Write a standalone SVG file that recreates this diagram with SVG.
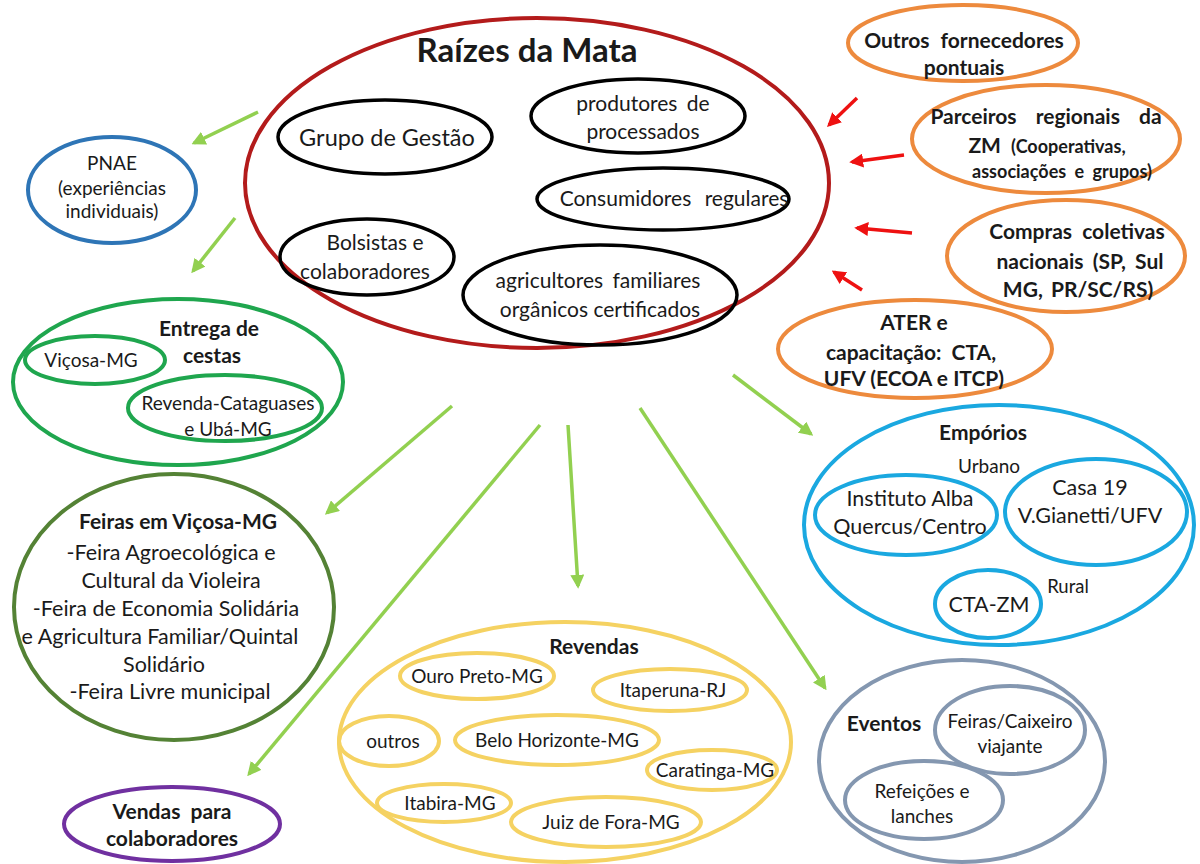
<svg xmlns="http://www.w3.org/2000/svg" width="1200" height="864" viewBox="0 0 1200 864">
<defs>
<marker id="ag" viewBox="0 0 10 10" refX="8" refY="5" markerWidth="4" markerHeight="4" orient="auto" markerUnits="strokeWidth"><path d="M0,0 L10,5 L0,10 z" fill="#92d050"/></marker>
<marker id="ar" viewBox="0 0 10 10" refX="8" refY="5" markerWidth="4" markerHeight="4" orient="auto" markerUnits="strokeWidth"><path d="M0,0 L10,5 L0,10 z" fill="#ee1111"/></marker>
</defs>
<style>
text{font-family:Lato,"Liberation Sans",sans-serif;fill:#1a1a1a;text-anchor:middle}
.t{font-size:21px}
.s{font-size:19px}
.b{font-weight:bold;font-size:21px}
ellipse{fill:none;stroke-width:4}
.red{stroke:#b31b1b}
.blk{stroke:#000;stroke-width:3.5}
.blu{stroke:#2e75b6}
.grn{stroke:#1fa64e}
.dgr{stroke:#548235}
.pur{stroke:#7030a0}
.yel{stroke:#f5d262}
.cya{stroke:#1aa8e0}
.gry{stroke:#8497b0}
.org{stroke:#ed8a3d}
.ga{stroke:#92d050;stroke-width:3.5;fill:none;marker-end:url(#ag)}
.ra{stroke:#ee1111;stroke-width:3.5;fill:none;marker-end:url(#ar)}
</style>

<g id="connectors">
<line class="ga" x1="258" y1="112" x2="194" y2="143"/>
<line class="ga" x1="235" y1="218" x2="193" y2="271"/>
<line class="ga" x1="452" y1="406" x2="327" y2="513"/>
<line class="ga" x1="540" y1="425" x2="249" y2="774"/>
<line class="ga" x1="568" y1="425" x2="578" y2="586"/>
<line class="ga" x1="640" y1="408" x2="825" y2="688"/>
<line class="ga" x1="733" y1="375" x2="811" y2="434"/>
<line class="ra" x1="857" y1="98" x2="829" y2="125"/>
<line class="ra" x1="904" y1="155" x2="852" y2="162"/>
<line class="ra" x1="912" y1="233" x2="857" y2="228"/>
<line class="ra" x1="862" y1="290" x2="834" y2="272"/>
</g>

<g id="raizes">
<ellipse class="red" cx="537" cy="183" rx="292" ry="165"/>
<text x="527" y="62" style="font-size:33px;font-weight:bold">Raízes da Mata</text>
</g>
<g id="grupo-gestao">
<ellipse class="blk" cx="385" cy="137" rx="107" ry="37"/>
<text x="387" y="146" style="font-size:23.5px">Grupo de Gestão</text>
</g>
<g id="produtores">
<ellipse class="blk" cx="638" cy="116" rx="107" ry="37"/>
<text class="t" x="643" y="111" style="word-spacing:4px">produtores de</text>
<text class="t" x="643" y="139">processados</text>
</g>
<g id="consumidores">
<ellipse class="blk" cx="663" cy="199" rx="126" ry="31"/>
<text class="t" x="674" y="206" style="word-spacing:8px">Consumidores regulares</text>
</g>
<g id="bolsistas">
<ellipse class="blk" cx="367" cy="257" rx="87" ry="38"/>
<text class="t" x="375" y="250">Bolsistas e</text>
<text class="t" x="365" y="279">colaboradores</text>
</g>
<g id="agricultores">
<ellipse class="blk" cx="600" cy="295" rx="137" ry="50"/>
<text class="t" x="598" y="288" style="word-spacing:4px">agricultores familiares</text>
<text class="t" x="600" y="317">orgânicos certificados</text>
</g>

<g id="pnae">
<ellipse class="blu" cx="112" cy="190" rx="84" ry="53"/>
<text class="s" x="112" y="170">PNAE</text>
<text class="s" x="112" y="195">(experiências</text>
<text class="s" x="112" y="218">individuais)</text>
</g>

<g id="entrega">
<ellipse class="grn" cx="178" cy="382" rx="165" ry="83"/>
<text class="b" x="209" y="336">Entrega de</text>
<text class="b" x="212" y="363">cestas</text>
</g>
<g id="vicosa">
<ellipse class="grn" cx="95" cy="360" rx="70" ry="24"/>
<text class="s" x="91" y="367">Viçosa-MG</text>
</g>
<g id="revenda-cataguases">
<ellipse class="grn" cx="225" cy="408" rx="97" ry="33"/>
<text class="s" x="228" y="410">Revenda-Cataguases</text>
<text class="s" x="228" y="436">e Ubá-MG</text>
</g>

<g id="feiras">
<ellipse class="dgr" cx="174" cy="607" rx="160" ry="133"/>
<text class="b" x="178" y="529">Feiras em Viçosa-MG</text>
<text x="171" y="560" style="font-size:21.5px">-Feira Agroecológica e</text>
<text x="171" y="588" style="font-size:21.5px">Cultural da Violeira</text>
<text x="166" y="616" style="font-size:21.5px">-Feira de Economia Solidária</text>
<text x="160" y="644" style="font-size:21.5px">e Agricultura Familiar/Quintal</text>
<text x="164" y="672" style="font-size:21.5px">Solidário</text>
<text x="170" y="699" style="font-size:21.5px">-Feira Livre municipal</text>
</g>

<g id="vendas">
<ellipse class="pur" cx="172" cy="824" rx="108" ry="37"/>
<text class="b" x="172" y="819" style="word-spacing:5px">Vendas para</text>
<text class="b" x="172" y="846">colaboradores</text>
</g>

<g id="revendas">
<ellipse class="yel" cx="565" cy="742" rx="226" ry="120"/>
<text class="b" x="594" y="654">Revendas</text>
</g>
<g id="ouro-preto"><ellipse class="yel" cx="477" cy="676" rx="77" ry="23"/><text class="s" x="477" y="683">Ouro Preto-MG</text></g>
<g id="itaperuna"><ellipse class="yel" cx="670" cy="690" rx="77" ry="21"/><text class="s" x="673" y="697">Itaperuna-RJ</text></g>
<g id="outros"><ellipse class="yel" cx="389" cy="741" rx="50" ry="25"/><text class="s" x="393" y="748">outros</text></g>
<g id="belo-horizonte"><ellipse class="yel" cx="557" cy="740" rx="102" ry="25"/><text class="s" x="557" y="747">Belo Horizonte-MG</text></g>
<g id="caratinga"><ellipse class="yel" cx="712" cy="770" rx="65" ry="20"/><text class="s" x="715" y="777">Caratinga-MG</text></g>
<g id="itabira"><ellipse class="yel" cx="444" cy="803" rx="67" ry="19"/><text class="s" x="450" y="810">Itabira-MG</text></g>
<g id="juiz-de-fora"><ellipse class="yel" cx="606" cy="822" rx="95" ry="25"/><text class="s" x="611" y="829">Juiz de Fora-MG</text></g>

<g id="emporios">
<ellipse class="cya" cx="999" cy="525" rx="195" ry="120"/>
<text class="b" x="983" y="440">Empórios</text>
<text class="s" x="989" y="473">Urbano</text>
<text x="1068" y="593" style="font-size:18.5px">Rural</text>
</g>
<g id="instituto-alba">
<ellipse class="cya" cx="906" cy="515" rx="91" ry="40"/>
<text x="910" y="506" style="font-size:21.5px">Instituto Alba</text>
<text x="910" y="534" style="font-size:21.5px">Quercus/Centro</text>
</g>
<g id="casa-19">
<ellipse class="cya" cx="1096" cy="512" rx="91" ry="53"/>
<text x="1090" y="495" style="font-size:21.5px">Casa 19</text>
<text x="1090" y="523" style="font-size:21.5px">V.Gianetti/UFV</text>
</g>
<g id="cta-zm">
<ellipse class="cya" cx="988" cy="604" rx="53" ry="34"/>
<text x="989" y="612" style="font-size:21.5px">CTA-ZM</text>
</g>

<g id="eventos">
<ellipse class="gry" cx="962" cy="761" rx="143" ry="101"/>
<text class="b" x="884" y="731">Eventos</text>
</g>
<g id="feiras-caixeiro">
<ellipse class="gry" cx="1010" cy="730" rx="75" ry="44"/>
<text class="s" x="1010" y="728">Feiras/Caixeiro</text>
<text class="s" x="1010" y="753">viajante</text>
</g>
<g id="refeicoes">
<ellipse class="gry" cx="924" cy="800" rx="79" ry="39"/>
<text class="s" x="922" y="798">Refeições e</text>
<text class="s" x="922" y="823">lanches</text>
</g>

<g id="outros-fornecedores">
<ellipse class="org" cx="963" cy="43" rx="115" ry="38"/>
<text class="b" x="964" y="48" style="word-spacing:6px">Outros fornecedores</text>
<text class="b" x="964" y="75">pontuais</text>
</g>
<g id="parceiros">
<ellipse class="org" cx="1046" cy="139" rx="134" ry="54"/>
<text class="b" x="1046" y="124" style="word-spacing:14px">Parceiros regionais da</text>
<text class="b" x="1047" y="153" style="word-spacing:5px">ZM <tspan style="font-size:18px">(Cooperativas,</tspan></text>
<text class="b" x="1062" y="178" style="font-size:18px;word-spacing:4px">associações e grupos)</text>
</g>
<g id="compras">
<ellipse class="org" cx="1066" cy="256" rx="119" ry="56"/>
<text class="b" x="1077" y="239" style="word-spacing:5px">Compras coletivas</text>
<text class="b" x="1080" y="269" style="word-spacing:4px">nacionais (SP, Sul</text>
<text class="b" x="1078" y="297" style="word-spacing:3px">MG, PR/SC/RS)</text>
</g>
<g id="ater">
<ellipse class="org" cx="915" cy="349" rx="137" ry="49"/>
<text class="b" x="914" y="330">ATER e</text>
<text class="b" x="911" y="360" style="word-spacing:5px">capacitação: CTA,</text>
<text class="b" x="914" y="386">UFV (ECOA e ITCP)</text>
</g>
</svg>
